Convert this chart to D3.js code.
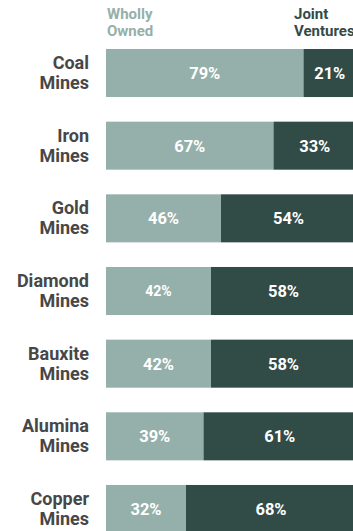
<!DOCTYPE html>
<html>
<head>
<meta charset="utf-8">
<script src="https://cdn.jsdelivr.net/npm/d3@7"></script>
<style>
  html, body { margin: 0; padding: 0; background: #fff; overflow: hidden; }
  svg { display: block; font-family: Roboto, "Noto Sans", sans-serif; }
</style>
</head>
<body>
<svg id="chart" width="353" height="531"></svg>
<script>
// Share of mines by ownership type (percent)
const categories = ["Coal", "Iron", "Gold", "Diamond", "Bauxite", "Alumina", "Copper"];
const whollyOwned = [79, 67, 46, 42, 42, 39, 32];
const jointVentures = [21, 33, 54, 58, 58, 61, 68];
const seriesNames = [["Wholly", "Owned"], ["Joint", "Ventures"]];

const colors = { wholly: "#95b0aa", joint: "#314b47", label: "#474747" };

const svg = d3.select("#chart");

const x = d3.scaleLinear().domain([0, 100]).range([106, 356]);
const y = d3.scaleBand().domain(categories).range([49, 533])
  .paddingInner(0.339).paddingOuter(0);

const rows = categories.map((c, i) => ({
  cat: c,
  segs: [
    { key: "wholly", x0: 0, x1: whollyOwned[i], v: whollyOwned[i] },
    { key: "joint", x0: whollyOwned[i], x1: whollyOwned[i] + jointVentures[i], v: jointVentures[i] }
  ]
}));

// Series headers
const headerX = [107, 294];
seriesNames.forEach((lines, i) => {
  const t = svg.append("text")
    .attr("x", headerX[i])
    .attr("fill", i === 0 ? colors.wholly : colors.joint)
    .attr("font-weight", 700)
    .attr("font-size", 15);
  lines.forEach((ln, j) => {
    t.append("tspan").attr("x", headerX[i]).attr("y", 19 + j * 16.5).text(ln);
  });
});

const g = svg.selectAll("g.row").data(rows).join("g").attr("class", "row");

// Category labels
g.append("text")
  .attr("text-anchor", "end")
  .attr("fill", colors.label)
  .attr("font-weight", 700)
  .attr("font-size", 18)
  .each(function(d) {
    const cy = y(d.cat) + y.bandwidth() / 2;
    const t = d3.select(this);
    t.append("tspan").attr("x", 89).attr("y", cy - 4).text(d.cat);
    t.append("tspan").attr("x", 89).attr("y", cy + 16).text("Mines");
  });

// Stacked bar segments
g.selectAll("rect").data(d => d.segs.map(s => ({ ...s, cat: d.cat }))).join("rect")
  .attr("x", s => x(s.x0))
  .attr("y", s => y(s.cat))
  .attr("width", s => x(s.x1) - x(s.x0))
  .attr("height", y.bandwidth())
  .attr("fill", s => colors[s.key]);

// Value labels
g.selectAll("text.val").data(d => d.segs.map(s => ({ ...s, cat: d.cat }))).join("text")
  .attr("class", "val")
  .attr("x", s => (x(s.x0) + x(s.x1)) / 2)
  .attr("y", s => y(s.cat) + y.bandwidth() / 2)
  .attr("dy", "0.36em")
  .attr("text-anchor", "middle")
  .attr("fill", "#fff")
  .attr("font-weight", 700)
  .attr("font-size", s => (s.cat === "Diamond" && s.key === "wholly") ? 14 : 16.5)
  .text(s => s.v + "%");
</script>
</body>
</html>
